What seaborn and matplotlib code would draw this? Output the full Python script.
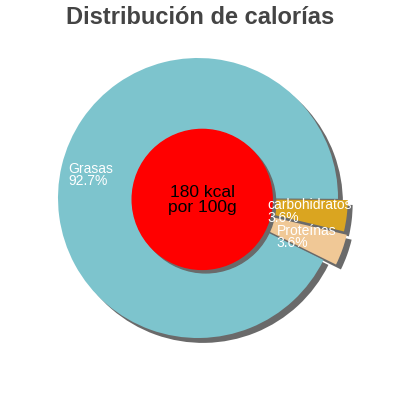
import numpy as np
import matplotlib
matplotlib.use('Agg')
import matplotlib.pyplot as plt
import seaborn as sns

# Data
labels = ['Grasas', 'carbohidratos', 'Proteínas']
shares = [92.7, 3.6, 3.6]
colors = ['#7dc4cd', '#daa520', '#f0c896']
explode = [0.0, 0.07, 0.095]
center_text = '180 kcal\npor 100g'
title = 'Distribución de calorías'

sns.set_theme(style='white')
plt.rcParams['font.family'] = ['Liberation Sans', 'DejaVu Sans']

fig = plt.figure(figsize=(4, 4), dpi=100)
ax = fig.add_axes([0, 0, 1, 1])
ax.set_aspect('equal')

flat = {'linewidth': 0, 'edgecolor': 'none'}

# shadow: same pie drawn in gray, shifted down-right
off = 0.035
ax.pie(shares, colors=['#6a6a6a'] * 3, explode=explode, startangle=-26.3,
       counterclock=False, radius=1.0, center=(off, -off), wedgeprops=flat)
wedges, _ = ax.pie(shares, colors=colors, explode=explode, startangle=-26.3,
                   counterclock=False, radius=1.0, center=(0, 0), wedgeprops=flat)

# center circle with its shadow
ax.add_patch(plt.Circle((0.03 + 0.025, -0.01 - 0.025), 0.5, color='#6a6a6a', zorder=3))
ax.add_patch(plt.Circle((0.03, -0.01), 0.5, color='#ff0000', zorder=4))
ax.text(0.03, -0.015, center_text, ha='center', va='center', fontsize=12.5,
        color='black', zorder=5, linespacing=1.0)

# labels placed at wedge mid angles, drawn above everything
for i, (w, lab, val) in enumerate(zip(wedges, labels, shares)):
    ang = np.deg2rad((w.theta1 + w.theta2) / 2)
    cx, cy = w.center
    r = 0.79 if i == 0 else 0.73
    x = cx + r * np.cos(ang)
    y = cy + r * np.sin(ang) - (0.02 if i == 0 else 0)
    ax.text(x, y, f'{lab}\n{val}%', color='white', fontsize=10, zorder=6,
            ha='center', va='center', multialignment='left', linespacing=0.85)

ax.set_xlim(-198 / 140, 202 / 140)
ax.set_ylim(-202 / 140, 198 / 140)
ax.axis('off')

fig.text(0.5, 0.985, title, ha='center', va='top', fontsize=17,
         fontweight='bold', color='#444444')

fig.savefig('out.png', dpi=100)
